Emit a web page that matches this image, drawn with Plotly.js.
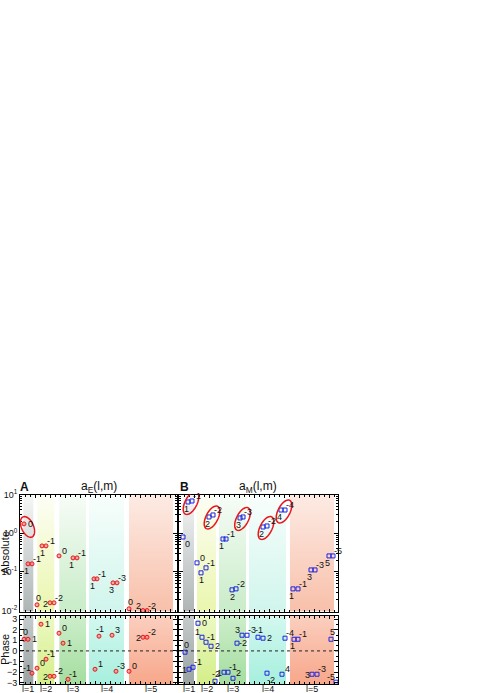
<!DOCTYPE html>
<html>
<head>
<meta charset="utf-8">
<script src="https://cdn.plot.ly/plotly-3.0.1.min.js"></script>
<style>
html, body { margin: 0; padding: 0; background: #fff; }
#chart { width: 491px; height: 693px; }
</style>
</head>
<body>
<div id="chart"></div>
<script>
// Panel A: a_E(l,m), absolute value (log) and phase
const absAx = [4, 8, 12, 22, 26, 17, 30, 34, 39, 53, 57, 74, 77, 93, 97, 109, 123, 127];
const absAy = [1.74, 0.162, 0.162, 0.471, 0.471, 0.0142, 0.016, 0.016, 0.26, 0.231, 0.231, 0.0664, 0.0664, 0.0524, 0.0524, 0.0112, 0.0101, 0.0101];
const absAm = ['0', '1', '-1', '1', '-1', '0', '2', '-2', '0', '1', '-1', '1', '-1', '3', '-3', '0', '2', '-2'];

const phAx = [4, 8, 12, 21, 17, 26, 30, 34, 39, 43, 48, 79, 92, 75, 96, 109, 123, 127];
const phAy = [1.10, 1.10, -2.10, 2.52, -1.63, -0.78, -2.39, -2.39, 1.67, 0.73, -2.67, 1.39, 1.48, -1.73, -1.92, -1.92, 1.29, 1.29];
const phAm = ['0', '1', '-1', '1', '0', '-1', '2', '-2', '0', '1', '-1', '-1', '3', '1', '-3', '0', '2', '-2'];

// Panel B: a_M(l,m)
const absBx = [9, 13, 4, 30, 34, 18, 22, 27, 44, 47, 53, 57, 61, 64, 84, 88, 102, 106, 114, 119, 132, 136, 150, 154];
const absBy = [6.41, 6.8, 0.80, 2.63, 2.96, 0.172, 0.095, 0.128, 0.71, 0.71, 0.0346, 0.0367, 2.48, 2.63, 1.45, 1.54, 3.98, 3.98, 0.0366, 0.0366, 0.113, 0.113, 0.26, 0.26];
const absBm = ['1', '-1', '0', '2', '-2', '0', '1', '-1', '1', '-1', '2', '-2', '3', '-3', '2', '-2', '4', '-4', '1', '-1', '3', '-3', '5', '-5'];

const phBx = [6, 10, 14, 19, 23, 27, 32, 36, 45, 49, 54, 63, 68, 58, 79, 84, 106, 88, 103, 115, 119, 152, 133, 138, 157];
const phBy = [-0.12, -1.73, -1.54, 2.61, 1.29, 0.82, 0.44, -2.86, -2.01, -2.01, -2.58, 1.48, 1.48, 0.73, 1.29, 1.20, 1.20, -2.10, -2.20, 1.10, 1.10, 1.10, -2.20, -2.20, -2.95];
const phBm = ['0', '1', '-1', '0', '1', '-1', '2', '-2', '1', '-1', '2', '3', '-3', '-2', '-1', '2', '-4', '-2', '4', '1', '-1', '5', '3', '-3', '-5'];

// l bands (x extent of each l group)
const lLabels = ['l=1', 'l=2', 'l=3', 'l=4', 'l=5'];
const bandALo = [3.3, 17.3, 39.3, 69, 109];
const bandAHi = [13.3, 34.3, 66, 104, 153];
const bandBLo = [4, 18, 40, 70, 111];
const bandBHi = [15, 37, 67, 107, 155];

// circled groups (indices into the absolute arrays)
const ringA = [[0]];
const ringB = [[0, 1], [3, 4], [12, 13], [14, 15], [16, 17]];

// where each m label sits relative to its point
const absApos = ['mr', 'bl', 'tr', 'bc', 'tr', 'tc', 'ml', 'tr', 'tr', 'bl', 'tr', 'bl', 'tr', 'bl', 'tr', 'tc', 'tl', 'tr'];
const phApos = ['tc', 'mr', 'tl', 'mr', 'tr', 'tr', 'ml', 'tr', 'tr', 'mr', 'tr', 'tc', 'tr', 'tr', 'tr', 'tr', 'ml', 'tr'];
const absBpos = ['bl', 'tr', 'br', 'bl', 'tr', 'tr', 'bc', 'tr', 'bl', 'tr', 'bc', 'tr', 'bl', 'tr', 'bl', 'tr', 'bl', 'tr', 'bl', 'tr', 'bl', 'tr', 'bl', 'tr'];
const phBpos = ['tc', 'ml', 'tr', 'mr', 'tl', 'tr', 'mr', 'tc', 'ml', 'tr', 'tr', 'tl', 'tr', 'mr', 'tc', 'mr', 'tr', 'br', 'tr', 'bl', 'tr', 'tc', 'ml', 'tr', 'tl'];
const posShift = {
    tr: [5, 5], tl: [-5, 5], tc: [1, 7],
    mr: [6, 0], ml: [-5, -1],
    br: [4, -7], bl: [-2, -7], bc: [0, -7]
};

const W = 491, H = 693;
const FONT = 'Liberation Sans, Arial, sans-serif';

// pixel frame of the four plots
const colA = [20, 177], colB = [179, 338];
const rowAbs = [494.5, 611.5], rowPh = [615.5, 684];
const absRange = [-2.02, 1.0];
const phRange = [-3.12, 3.34];

const bandAbsColors = [
    ['#aeb4b4', '#f6f7f7'],
    ['#eaf6ae', '#fdfef6'],
    ['#c8ecc8', '#f7fcf7'],
    ['#d0f5ec', '#f8fefc'],
    ['#f8c0aa', '#fdebe4']
];
const bandPhColors = [
    ['#9aa2a2', '#c6cbcb'],
    ['#d4ee88', '#ecf9c4'],
    ['#a4dd9e', '#cdeecb'],
    ['#a6efde', '#d4f8ef'],
    ['#f7a78a', '#fbcfbf']
];

function domX(c) { return [c[0] / W, c[1] / W]; }
function domY(r) { return [1 - r[1] / H, 1 - r[0] / H]; }

function bandTraces(lo, hi, xa, ya, yLo, yHi, colors) {
    return lo.map((x0, i) => ({
        x: [x0, hi[i], hi[i], x0, x0],
        y: [yLo, yLo, yHi, yHi, yLo],
        xaxis: xa, yaxis: ya,
        type: 'scatter', mode: 'lines',
        fill: 'toself',
        fillgradient: { type: 'vertical', colorscale: [[0, colors[i][0]], [1, colors[i][1]]] },
        line: { width: 0 },
        hoverinfo: 'skip', showlegend: false
    }));
}

function pointTrace(x, y, xa, ya, isE) {
    return {
        x: x, y: y,
        xaxis: xa, yaxis: ya,
        type: 'scatter', mode: 'markers',
        cliponaxis: false,
        marker: isE
            ? { symbol: 'circle', size: 4, color: 'rgba(255,110,110,0.55)', line: { color: '#e8161b', width: 1 } }
            : { symbol: 'square-open', size: 4, color: '#1f24e0', line: { width: 1 } },
        showlegend: false
    };
}

// m labels as annotations pinned to the points
function mLabels(x, y, m, pos, xr, yr, isLog) {
    return x.map((v, i) => ({
        xref: xr, yref: yr, x: v, y: isLog ? Math.log10(y[i]) : y[i],
        text: m[i], showarrow: false,
        xanchor: 'center', yanchor: 'middle',
        xshift: posShift[pos[i]][0], yshift: posShift[pos[i]][1],
        font: { family: FONT, size: 9, color: '#111' }
    }));
}

const absLo = Math.pow(10, absRange[0]), absHi = Math.pow(10, absRange[1]);

const traces = [
    ...bandTraces(bandALo, bandAHi, 'x', 'y', absLo, absHi, bandAbsColors),
    ...bandTraces(bandALo, bandAHi, 'x2', 'y2', phRange[0], phRange[1], bandPhColors),
    ...bandTraces(bandBLo, bandBHi, 'x3', 'y3', absLo, absHi, bandAbsColors),
    ...bandTraces(bandBLo, bandBHi, 'x4', 'y4', phRange[0], phRange[1], bandPhColors),
    pointTrace(absAx, absAy, 'x', 'y', true),
    pointTrace(phAx, phAy, 'x2', 'y2', true),
    pointTrace(absBx, absBy, 'x3', 'y3', false),
    pointTrace(phBx, phBy, 'x4', 'y4', false)
];

// red rings drawn around the circled groups, sized in pixels
const pxPerDecade = (rowAbs[1] - rowAbs[0]) / (absRange[1] - absRange[0]);
function ringPath(xs, ys, idx, shiftX, shiftY, tiltDeg, major, minor) {
    const cx = idx.reduce((s, i) => s + xs[i], 0) / idx.length + shiftX;
    const cl = idx.reduce((s, i) => s + Math.log10(ys[i]), 0) / idx.length - shiftY / pxPerDecade;
    const th = tiltDeg * Math.PI / 180;
    let d = '';
    for (let k = 0; k <= 48; k++) {
        const t = 2 * Math.PI * k / 48;
        const dx = minor * Math.cos(t) * Math.cos(th) + major * Math.sin(t) * Math.sin(th);
        const dy = minor * Math.cos(t) * Math.sin(th) - major * Math.sin(t) * Math.cos(th);
        const px = cx + dx;
        const py = Math.pow(10, cl - dy / pxPerDecade);
        d += (k === 0 ? 'M' : 'L') + px.toFixed(3) + ',' + py.toPrecision(6);
    }
    return d + 'Z';
}

const shapes = [];
ringA.forEach(g => shapes.push({
    type: 'path', xref: 'x', yref: 'y', path: ringPath(absAx, absAy, g, 3.5, 3, -24, 11, 6),
    line: { color: '#e8161b', width: 1.5 }
}));
ringB.forEach(g => shapes.push({
    type: 'path', xref: 'x3', yref: 'y3', path: ringPath(absBx, absBy, g, 1, 1.5, 27, 12.5, 6),
    line: { color: '#e8161b', width: 1.5 }
}));
// dotted zero-phase lines
[['x2', 'y2', 157], ['x4', 'y4', 159]].forEach(([xr, yr, w]) => shapes.push({
    type: 'line', xref: xr, yref: yr, x0: 0, x1: w, y0: 0, y1: 0,
    line: { color: '#222', width: 1, dash: 'dot' }
}));

const logTicks = [0.01, 0.1, 1, 10];
const logText = ['10<sup>-2</sup>', '10<sup>-1</sup>', '10<sup>0</sup>', '10<sup>1</sup>'];
const logMinor = [];
[0.01, 0.1, 1].forEach(b => { for (let k = 2; k <= 9; k++) logMinor.push(b * k); });

const frame = {
    showline: true, linecolor: '#000', linewidth: 1, mirror: 'allticks',
    ticks: 'inside', tickcolor: '#000', showgrid: false, zeroline: false,
    tickfont: { family: FONT, size: 9, color: '#111' }, fixedrange: true
};

function xFrame(col, w) {
    return {
        ...frame, domain: domX(col), range: [0, w], showticklabels: false,
        dtick: 15, tick0: 0, ticklen: 3,
        minor: { ticks: 'inside', ticklen: 2, dtick: 5, tickcolor: '#000' }
    };
}
function yAbs(labels) {
    return {
        ...frame, type: 'log', domain: domY(rowAbs), range: absRange,
        tickmode: 'array', tickvals: logTicks, ticktext: logText, ticklen: 4,
        showticklabels: labels,
        minor: { ticks: 'inside', ticklen: 2, tickvals: logMinor, tickcolor: '#000' }
    };
}
function yPh(labels) {
    return {
        ...frame, domain: domY(rowPh), range: phRange,
        dtick: 1, tick0: 0, ticklen: 4, showticklabels: labels,
        minor: { ticks: 'inside', ticklen: 2, dtick: 0.5, tickcolor: '#000' }
    };
}

const ann = (x, y, text, size, extra) => ({
    xref: 'paper', yref: 'paper', x: x / W, y: 1 - y / H, text: text,
    xanchor: 'center', yanchor: 'middle',
    showarrow: false, font: { family: FONT, size: size, color: '#111' }, ...extra
});

// l=1 ... l=5 labels under each phase plot, centred on the bands
const lAnn = [];
[['x2', bandALo, bandAHi], ['x4', bandBLo, bandBHi]].forEach(([xr, lo, hi]) => {
    lo.forEach((v, i) => lAnn.push({
        xref: xr, yref: 'paper', x: (v + hi[i]) / 2, y: 1 - 689 / H,
        xanchor: 'center', yanchor: 'middle',
        text: lLabels[i], showarrow: false, font: { family: FONT, size: 9, color: '#111' }
    }));
});

const layout = {
    width: W, height: H,
    margin: { l: 0, r: 0, t: 0, b: 0 },
    paper_bgcolor: '#fff', plot_bgcolor: '#fff',
    showlegend: false,
    font: { family: FONT, color: '#111' },
    xaxis: { ...xFrame(colA, 157), anchor: 'y' },
    yaxis: { ...yAbs(true), anchor: 'x' },
    xaxis2: { ...xFrame(colA, 157), anchor: 'y2' },
    yaxis2: { ...yPh(true), anchor: 'x2' },
    xaxis3: { ...xFrame(colB, 159), anchor: 'y3' },
    yaxis3: { ...yAbs(false), anchor: 'x3' },
    xaxis4: { ...xFrame(colB, 159), anchor: 'y4' },
    yaxis4: { ...yPh(false), anchor: 'x4' },
    shapes: shapes,
    annotations: [
        ann(24, 487, '<b>A</b>', 12),
        ann(99, 487, 'a<sub>E</sub>(l,m)', 12),
        ann(184, 487, '<b>B</b>', 12),
        ann(258, 487, 'a<sub>M</sub>(l,m)', 12),
        ann(5, 553, 'Absolute', 11, { textangle: -90 }),
        ann(5, 650, 'Phase', 11, { textangle: -90 }),
        ...lAnn,
        ...mLabels(absAx, absAy, absAm, absApos, 'x', 'y', true),
        ...mLabels(phAx, phAy, phAm, phApos, 'x2', 'y2', false),
        ...mLabels(absBx, absBy, absBm, absBpos, 'x3', 'y3', true),
        ...mLabels(phBx, phBy, phBm, phBpos, 'x4', 'y4', false)
    ]
};

Plotly.newPlot('chart', traces, layout, { displayModeBar: false, staticPlot: true });
</script>
</body>
</html>
